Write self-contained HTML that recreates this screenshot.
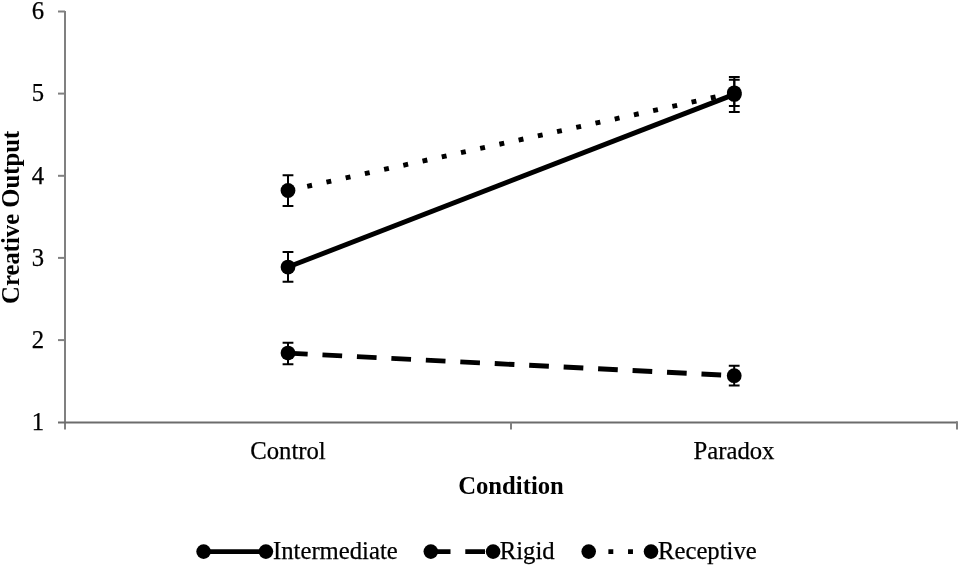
<!DOCTYPE html>
<html>
<head>
<meta charset="utf-8">
<style>
html,body{margin:0;padding:0;background:#fff;}
body{width:961px;height:567px;overflow:hidden;}
svg{display:block;will-change:transform;}
text{font-family:"Liberation Serif", serif;fill:#000;stroke:#000;stroke-width:0.25px;}
</style>
</head>
<body>
<svg width="961" height="567" viewBox="0 0 961 567">
<rect x="0" y="0" width="961" height="567" fill="#fff"/>
<!-- axes -->
<g stroke="#808080" stroke-width="2" fill="none">
  <line x1="65" y1="11" x2="65" y2="429.5"/>
  <line x1="58" y1="422.5" x2="957" y2="422.5" stroke="#6c6c6c"/>
  <line x1="58" y1="11.5" x2="65" y2="11.5"/>
  <line x1="58" y1="93.6" x2="65" y2="93.6"/>
  <line x1="58" y1="175.8" x2="65" y2="175.8"/>
  <line x1="58" y1="257.9" x2="65" y2="257.9"/>
  <line x1="58" y1="340.1" x2="65" y2="340.1"/>
  <line x1="511" y1="422.5" x2="511" y2="429.5"/>
  <line x1="957" y1="421.3" x2="957" y2="429.5"/>
</g>
<!-- y tick labels -->
<g font-size="24.7" text-anchor="end">
  <text x="44" y="19.3">6</text>
  <text x="44" y="101.3">5</text>
  <text x="44" y="183.5">4</text>
  <text x="44" y="265.6">3</text>
  <text x="44" y="347.8">2</text>
  <text x="44" y="429.9">1</text>
</g>
<!-- x tick labels -->
<g font-size="24.7" text-anchor="middle">
  <text x="288" y="459">Control</text>
  <text x="734" y="459">Paradox</text>
</g>
<text x="511" y="494.2" font-size="24.7" font-weight="bold" style="stroke:none" text-anchor="middle">Condition</text>
<text transform="translate(19.1,217.4) rotate(-90)" font-size="24.7" font-weight="bold" style="stroke:none" text-anchor="middle">Creative Output</text>

<!-- series lines -->
<g stroke="#000" stroke-width="4.9" fill="none" stroke-linecap="butt">
  <line x1="288" y1="267.05" x2="734.3" y2="94.4"/>
  <line x1="288" y1="353.1" x2="734.2" y2="375.7" stroke-dasharray="19.7 14.8"/>
  <line x1="288" y1="190.5" x2="734.3" y2="92.85" stroke-dasharray="4.918 14.754"/>
</g>
<!-- error bars -->
<g stroke="#000" stroke-width="2" fill="none">
  <path d="M288 175.15V206M282.6 175.15H293.4M282.6 206H293.4"/>
  <path d="M288 252.05V281.8M282.6 252.05H293.4M282.6 281.8H293.4"/>
  <path d="M288 342.7V364.2M282.6 342.7H293.4M282.6 364.2H293.4"/>
  <path d="M734.3 76.9V111.9M728.9 76.9H739.7M728.9 111.9H739.7"/>
  <path d="M734.3 79.7V106M728.9 79.7H739.7M728.9 106H739.7"/>
  <path d="M734.2 365.7V385.4M728.8 365.7H739.6M728.8 385.4H739.6"/>
</g>
<!-- markers -->
<g fill="#000">
  <circle cx="288" cy="267.05" r="7.4"/>
  <circle cx="734.3" cy="94.4" r="7.4"/>
  <circle cx="288" cy="353.1" r="7.4"/>
  <circle cx="734.2" cy="375.7" r="7.4"/>
  <circle cx="288" cy="190.5" r="7.4"/>
  <circle cx="734.3" cy="92.85" r="7.4"/>
</g>

<!-- legend -->
<g stroke="#000" stroke-width="4.9" fill="none">
  <line x1="203.6" y1="551.6" x2="265.9" y2="551.6"/>
  <line x1="430.8" y1="551.6" x2="493.1" y2="551.6" stroke-dasharray="19.7 14.8"/>
  <line x1="588.7" y1="551.6" x2="651" y2="551.6" stroke-dasharray="4.918 14.754"/>
</g>
<g fill="#000">
  <circle cx="203.6" cy="551.6" r="7.3"/>
  <circle cx="265.9" cy="551.6" r="7.3"/>
  <circle cx="430.8" cy="551.6" r="7.3"/>
  <circle cx="493.1" cy="551.6" r="7.3"/>
  <circle cx="588.7" cy="551.6" r="7.3"/>
  <circle cx="651" cy="551.6" r="7.3"/>
</g>
<g font-size="24.7">
  <text x="273" y="559.1">Intermediate</text>
  <text x="499.8" y="559.1">Rigid</text>
  <text x="658" y="559.1">Receptive</text>
</g>
</svg>
</body>
</html>
